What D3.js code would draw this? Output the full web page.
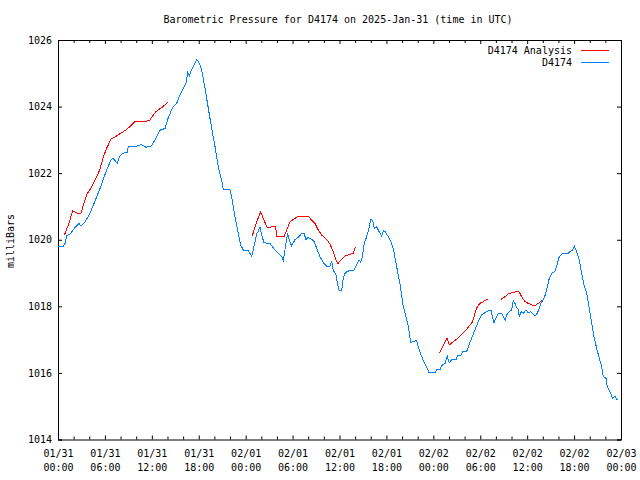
<!DOCTYPE html>
<html><head><meta charset="utf-8">
<script src="https://cdn.jsdelivr.net/npm/d3@7"></script>
<style>
body{margin:0;background:#fff;}
text{font-family:"DejaVu Sans Mono","Liberation Mono",monospace;font-size:10px;fill:#000;}
</style></head><body>
<svg id="chart" width="640" height="480"></svg>
<script>
// hours since 2025-01-31 00:00 UTC
const stationHours = [0.0,0.68,0.9,1.11,1.53,2.17,2.69,2.94,3.45,4.09,4.95,5.37,6.23,6.78,7.0,7.29,7.58,7.84,8.27,8.86,8.99,10.4,10.61,11.25,11.98,12.62,13.13,13.68,14.03,14.67,15.18,15.51,15.95,16.37,16.59,16.79,17.1,17.39,17.74,18.07,18.38,18.8,19.22,19.65,20.08,20.5,20.93,21.14,21.99,22.21,22.63,23.06,23.36,23.7,24.33,24.77,25.06,25.41,25.61,25.83,26.05,26.34,27.11,27.75,28.17,28.61,28.81,29.16,29.37,29.58,29.88,30.31,30.73,31.16,31.46,31.71,32.01,32.44,32.78,33.08,33.5,34.02,34.36,34.78,35.0,35.2,35.55,35.77,35.93,36.28,36.48,36.7,36.92,37.34,37.85,38.2,38.53,38.71,38.91,39.17,39.47,39.77,39.99,40.24,40.45,40.76,40.96,41.39,41.6,41.82,42.24,42.58,42.88,43.31,43.73,44.16,44.5,44.8,45.1,45.44,45.87,46.07,46.42,46.84,47.15,47.44,48.21,48.43,48.85,49.07,49.49,49.78,50.04,50.35,50.9,51.06,51.5,51.75,52.26,52.56,52.9,53.32,53.75,54.18,54.6,55.02,55.37,55.54,55.75,56.01,56.3,56.74,56.94,57.2,57.38,57.71,58.02,58.22,58.44,58.66,58.86,58.99,59.21,59.5,59.85,60.14,60.45,60.7,61.0,61.29,61.55,61.73,61.98,62.28,62.57,62.83,63.13,63.55,63.77,64.1,64.41,64.74,65.26,65.47,65.82,66.02,66.33,66.66,66.97,67.26,67.61,67.9,68.25,68.54,68.89,69.22,69.53,69.73,70.08,70.24,70.59,70.93,71.23,71.52];
const stationPressure = [1019.80,1019.80,1019.89,1020.12,1020.17,1020.37,1020.49,1020.41,1020.54,1020.79,1021.29,1021.54,1022.10,1022.40,1022.45,1022.38,1022.30,1022.49,1022.60,1022.62,1022.80,1022.82,1022.87,1022.78,1022.82,1023.10,1023.32,1023.33,1023.62,1023.98,1024.10,1024.30,1024.52,1024.70,1025.02,1024.92,1025.12,1025.25,1025.42,1025.30,1025.10,1024.55,1023.95,1023.35,1022.80,1022.19,1021.79,1021.51,1021.51,1021.29,1020.69,1020.19,1019.84,1019.69,1019.67,1019.51,1019.79,1020.19,1020.25,1020.39,1020.14,1019.91,1019.89,1019.69,1019.59,1019.49,1019.39,1019.89,1020.19,1019.99,1019.81,1020.01,1020.07,1020.19,1020.19,1020.01,1020.07,1020.01,1019.94,1019.74,1019.49,1019.29,1019.21,1019.21,1019.37,1019.09,1018.94,1018.64,1018.49,1018.49,1018.84,1018.99,1019.04,1019.08,1019.09,1019.25,1019.39,1019.33,1019.46,1019.89,1020.09,1020.34,1020.61,1020.59,1020.34,1020.39,1020.29,1020.11,1020.27,1020.25,1020.09,1019.94,1019.74,1019.19,1018.69,1017.99,1017.69,1017.39,1016.91,1016.94,1016.97,1016.79,1016.54,1016.31,1016.17,1016.01,1016.01,1016.09,1016.10,1016.22,1016.28,1016.50,1016.31,1016.39,1016.40,1016.51,1016.51,1016.64,1016.64,1016.84,1017.04,1017.29,1017.54,1017.74,1017.81,1017.87,1017.89,1017.69,1017.51,1017.64,1017.79,1017.79,1017.69,1017.59,1017.74,1017.84,1017.89,1018.17,1018.09,1017.97,1017.91,1017.69,1017.84,1017.79,1017.89,1017.81,1017.84,1017.79,1017.71,1017.79,1017.94,1018.09,1018.17,1018.32,1018.59,1018.84,1018.99,1019.05,1019.19,1019.49,1019.57,1019.59,1019.59,1019.64,1019.69,1019.81,1019.64,1019.39,1018.99,1018.64,1018.39,1017.99,1017.49,1017.09,1016.74,1016.44,1016.19,1015.89,1015.84,1015.59,1015.44,1015.24,1015.29,1015.19];

// analysis series; null marks a gap between analysis runs
const analysisHours = [0.81,1.32,1.88,2.17,2.69,2.94,3.24,3.75,4.31,4.95,5.37,5.79,6.23,6.78,7.51,8.57,9.21,9.85,11.68,11.98,12.53,13.26,14.03,
  14.5,
  24.85,25.41,25.92,26.34,26.76,27.33,27.84,27.97,28.39,28.94,29.25,29.67,30.18,30.73,32.01,32.44,32.86,33.29,33.72,34.36,34.78,35.2,35.55,35.81,36.15,36.7,37.34,37.76,38.02,
  38.5,
  48.76,49.27,49.74,50.04,50.55,50.98,51.41,51.83,52.26,52.69,53.03,53.32,53.62,53.96,54.39,54.82,54.99,
  55.5,
  56.65,57.16,57.58,58.02,58.66,58.95,59.3,59.72,60.14,60.58,60.91,61.29,61.73,61.98];
const analysisPressure = [1020.14,1020.44,1020.87,1020.84,1020.77,1020.80,1021.04,1021.39,1021.59,1021.89,1022.12,1022.49,1022.75,1023.02,1023.12,1023.28,1023.40,1023.55,1023.57,1023.68,1023.85,1023.97,1024.12,
  null,
  1020.12,1020.54,1020.84,1020.59,1020.36,1020.39,1020.39,1020.09,1020.09,1020.11,1020.29,1020.54,1020.62,1020.71,1020.71,1020.59,1020.49,1020.29,1020.14,1020.01,1019.87,1019.64,1019.39,1019.29,1019.38,1019.51,1019.56,1019.59,1019.79,
  null,
  1016.59,1016.82,1017.04,1016.84,1016.94,1017.01,1017.10,1017.21,1017.31,1017.44,1017.54,1017.79,1017.99,1018.09,1018.14,1018.21,1018.22,
  null,
  1018.21,1018.29,1018.37,1018.41,1018.44,1018.44,1018.29,1018.14,1018.09,1018.04,1018.01,1018.07,1018.14,1018.19];

const yTicks = [1014,1016,1018,1020,1022,1024,1026];
const seriesNames = ["D4174 Analysis","D4174"];
const seriesColors = ["#ff0000","#0080ff"];
const titleText = "Barometric Pressure for D4174 on 2025-Jan-31 (time in UTC)";
const yLabel = "milliBars";

const t0 = Date.UTC(2025,0,31,0,0);
const toDate = h => new Date(t0 + h*3600000);

const L=58, R=621, T=40, B=439.5;
const svg = d3.select("#chart");
const x = d3.scaleUtc().domain([toDate(0), toDate(72)]).range([L,R]);
const y = d3.scaleLinear().domain([1014,1026]).range([B,T]);

const majorT = d3.utcHour.every(6).range(toDate(0), toDate(72.01));
const minorT = d3.utcHour.every(2).range(toDate(0), toDate(72.01)).filter(d => d.getUTCHours()%6!==0);

// minor ticks
svg.append("g").attr("transform",`translate(0,${B})`)
  .call(d3.axisBottom(x).tickValues(minorT).tickSize(-3).tickFormat(""))
  .call(g=>g.select(".domain").remove());
svg.append("g").attr("transform",`translate(0,${T})`)
  .call(d3.axisTop(x).tickValues(minorT).tickSize(-3).tickFormat(""))
  .call(g=>g.select(".domain").remove());

// bottom axis with two-line labels
const fmtD = d3.utcFormat("%m/%d"), fmtH = d3.utcFormat("%H:%M");
const xb = svg.append("g").attr("transform",`translate(0,${B})`)
  .call(d3.axisBottom(x).tickValues(majorT).tickSize(-4).tickPadding(0).tickFormat(""));
xb.selectAll(".tick").each(function(d){
  const t = d3.select(this).append("text").attr("fill","#000").attr("text-anchor","middle");
  t.append("tspan").attr("x",0).attr("y",17).text(fmtD(d));
  t.append("tspan").attr("x",0).attr("y",31).text(fmtH(d));
});
svg.append("g").attr("transform",`translate(0,${T})`)
  .call(d3.axisTop(x).tickValues(majorT).tickSize(-4).tickFormat(""));

// y axes
svg.append("g").attr("transform",`translate(${L},0)`)
  .call(d3.axisLeft(y).tickValues(yTicks).tickSize(-4).tickPadding(6).tickFormat(d3.format("d")))
  .call(g=>g.selectAll("text").style("font-size","10px"));
svg.append("g").attr("transform",`translate(${R},0)`)
  .call(d3.axisRight(y).tickValues(yTicks).tickSize(-4).tickFormat(""));

svg.selectAll(".domain").attr("stroke","#000");
svg.selectAll(".tick line").attr("stroke","#000");
svg.selectAll("g text").style("font-family","'DejaVu Sans Mono','Liberation Mono',monospace");

// lines
const lineGen = d3.line().defined(d=>d[1]!==null).x(d=>x(toDate(d[0]))).y(d=>y(d[1]));
const analysisData = analysisHours.map((h,i)=>[h,analysisPressure[i]]);
const stationData = stationHours.map((h,i)=>[h,stationPressure[i]]);
svg.append("path").datum(analysisData).attr("d",lineGen)
  .attr("fill","none").attr("stroke",seriesColors[0]).attr("stroke-width",1)
  .attr("shape-rendering","crispEdges");
svg.append("path").datum(stationData).attr("d",lineGen)
  .attr("fill","none").attr("stroke",seriesColors[1]).attr("stroke-width",1)
  .attr("shape-rendering","crispEdges");

// title and labels
svg.append("text").attr("x",338).attr("y",23).attr("text-anchor","middle").text(titleText);
svg.append("text").attr("transform","translate(14,241) rotate(-90)").attr("text-anchor","middle").text(yLabel);

// legend
seriesNames.forEach((n,i)=>{
  const ly = 50 + i*12;
  svg.append("text").attr("x",572).attr("y",ly).attr("dy","0.35em").attr("text-anchor","end").text(n);
  svg.append("line").attr("x1",581).attr("x2",609).attr("y1",ly).attr("y2",ly)
    .attr("stroke",seriesColors[i]).attr("stroke-width",1).attr("shape-rendering","crispEdges");
});
</script></body></html>
